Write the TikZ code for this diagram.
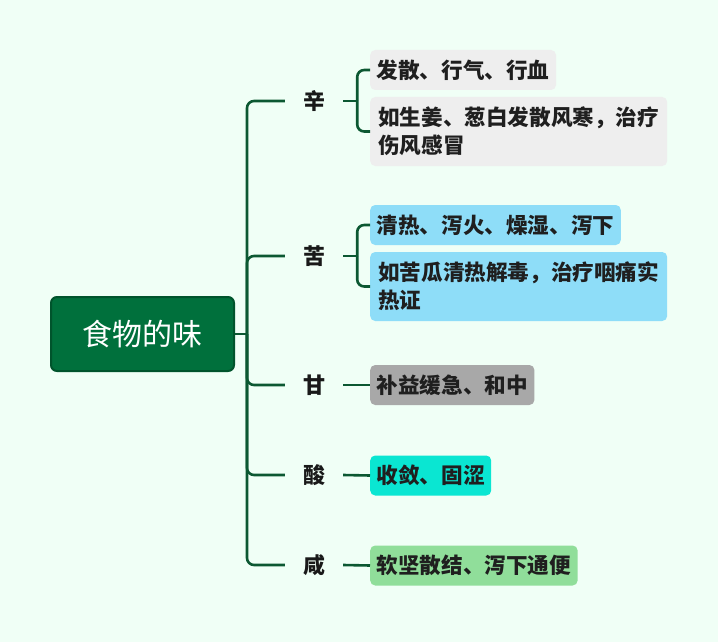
\documentclass[tikz,border=0pt]{standalone}
\usepackage{fontspec}
\newfontfamily\cjk{Noto Sans CJK SC}
\usepackage{tikz}
\definecolor{mintbg}{RGB}{240,255,246}
\definecolor{rootgreen}{RGB}{0,112,60}
\definecolor{rootedge}{RGB}{0,84,44}
\definecolor{linkgreen}{RGB}{12,88,50}
\definecolor{boxgray}{RGB}{238,238,238}
\definecolor{boxblue}{RGB}{142,221,248}
\definecolor{boxdark}{RGB}{168,168,168}
\definecolor{boxcyan}{RGB}{10,230,210}
\definecolor{boxgreen}{RGB}{144,222,154}
\tikzset{
  link/.style={line width=2.6pt,linkgreen,rounded corners=7pt},
  taste/.style={font=\cjk\fontsize{22}{28}\selectfont\bfseries,text=black!90,
    minimum width=58pt,inner sep=0pt},
  leaf/.style={anchor=west,rounded corners=5pt,align=left,inner xsep=6.5pt,inner ysep=0pt,
    minimum height=40pt,font=\cjk\fontsize{21.6}{28}\selectfont\bfseries,text=black!88},
  twoline/.style={minimum height=69pt,minimum width=297pt}
}
\begin{document}
\begin{tikzpicture}[x=1pt,y=-1pt]
  \fill[mintbg] (0,0) rectangle (718,642);
  \useasboundingbox (0,0) rectangle (718,642);
  % root
  \node[draw=rootedge,line width=2pt,fill=rootgreen,rounded corners=6pt,
    minimum width=183pt,minimum height=74pt,text=white,
    font=\cjk\fontsize{30}{34}\selectfont] (root) at (142.5,334) {食物的味};
  \coordinate (trunk) at (247,334);
  % tastes
  \node[taste] (xin) at (314,101) {辛};
  \node[taste] (ku)  at (314,256) {苦};
  \node[taste] (gan) at (314,385) {甘};
  \node[taste] (suan) at (314,475) {酸};
  \node[taste] (xian) at (314,565) {咸};
  % leaves
  \node[leaf,fill=boxgray] (xin1) at (370,70) {发散、行气、行血};
  \node[leaf,twoline,fill=boxgray] (xin2) at (370,131.5) {如生姜、葱白发散风寒，治疗\\伤风感冒};
  \node[leaf,fill=boxblue] (ku1) at (370,225) {清热、泻火、燥湿、泻下};
  \node[leaf,twoline,fill=boxblue] (ku2) at (370,286.5) {如苦瓜清热解毒，治疗咽痛实\\热证};
  \node[leaf,fill=boxdark] (gan1) at (370,385) {补益缓急、和中};
  \node[leaf,fill=boxcyan] (suan1) at (370,475.5) {收敛、固涩};
  \node[leaf,fill=boxgreen] (xian1) at (370,565.5) {软坚散结、泻下通便};
  % trunk to tastes
  \draw[link] (root.east) -- (trunk);
  \foreach \t in {xin,ku,gan,suan,xian}
    \draw[link] (trunk) |- (\t.west);
  % brackets
  \draw[link] (xin.east) -- ++(14,0) coordinate (jxin);
  \draw[link] (jxin) |- (xin1.west);
  \draw[link] (jxin) |- (xin2.west);
  \draw[link] (ku.east) -- ++(14,0) coordinate (jku);
  \draw[link] (jku) |- (ku1.west);
  \draw[link] (jku) |- (ku2.west);
  \draw[link] (gan.east) -- (gan1.west);
  \draw[link] (suan.east) -- (suan1.west);
  \draw[link] (xian.east) -- (xian1.west);
\end{tikzpicture}
\end{document}
